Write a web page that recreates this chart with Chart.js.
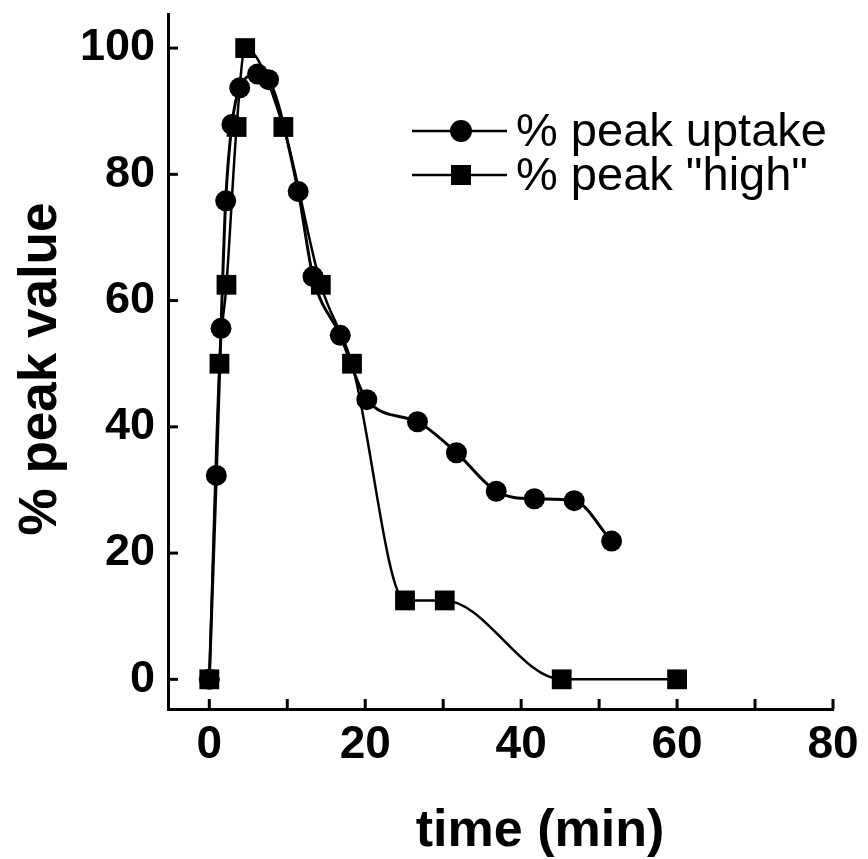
<!DOCTYPE html>
<html>
<head>
<meta charset="utf-8">
<script src="https://cdn.jsdelivr.net/npm/chart.js@4.4.0/dist/chart.umd.min.js"></script>
<style>
  html, body { margin: 0; padding: 0; background: #fff; }
  #wrap { width: 868px; height: 859px; }
</style>
</head>
<body>
<div id="wrap"><canvas id="myChart" width="868" height="859"></canvas></div>
<script>
// values
const uptakeTimes  = [0, 0.9, 1.5, 2.1, 2.9, 3.9, 6.2, 7.6, 11.4, 13.3, 16.8, 20.2, 26.7, 31.7, 36.8, 41.7, 46.8, 51.6];
const uptakeValues = [0, 32.3, 55.6, 75.8, 87.9, 93.7, 95.9, 95.0, 77.3, 63.8, 54.5, 44.3, 40.8, 35.9, 29.8, 28.6, 28.3, 21.9];

const highTimes  = [0, 1.3, 2.2, 3.5, 4.6, 9.5, 14.3, 18.3, 25.1, 30.2, 45.2, 60];
const highValues = [0, 50, 62.5, 87.5, 100, 87.5, 62.5, 50, 12.5, 12.5, 0, 0];

const seriesLabels = ['% peak uptake', '% peak "high"'];

const xTickValues  = [0, 10, 20, 30, 40, 50, 60, 70, 80];
const xLabelValues = [0, 20, 40, 60, 80];
const yTickValues  = [0, 20, 40, 60, 80, 100];

const xTitle = 'time (min)';
const yTitle = '% peak value';

const FONT = "'Liberation Sans', Arial, Helvetica, sans-serif";

Chart.defaults.font.family = FONT;
Chart.defaults.color = '#000';

const toPoints = (xs, ys) => xs.map((x, i) => ({ x: x, y: ys[i] }));

// short tick marks pointing into the plot, like the original
const innerTicks = {
  id: 'innerTicks',
  beforeDatasetsDraw(chart) {
    const { ctx, chartArea, scales } = chart;
    ctx.save();
    ctx.strokeStyle = '#000';
    ctx.lineWidth = 3;
    yTickValues.forEach(v => {
      const py = scales.y.getPixelForValue(v);
      ctx.beginPath();
      ctx.moveTo(chartArea.left, py);
      ctx.lineTo(chartArea.left + 10, py);
      ctx.stroke();
    });
    xTickValues.forEach(v => {
      const px = scales.x.getPixelForValue(v);
      ctx.beginPath();
      ctx.moveTo(px, chartArea.bottom);
      ctx.lineTo(px, chartArea.bottom - 10);
      ctx.stroke();
    });
    ctx.restore();
  }
};

const axisTitles = {
  id: 'axisTitles',
  afterDraw(chart) {
    const ctx = chart.ctx;
    ctx.save();
    ctx.fillStyle = '#000';
    ctx.textAlign = 'center';
    ctx.textBaseline = 'alphabetic';
    ctx.font = 'bold 52px ' + FONT;
    ctx.fillText(xTitle, 540, 846);

    ctx.translate(56, 369);
    ctx.rotate(-Math.PI / 2);
    ctx.font = 'bold 53px ' + FONT;
    ctx.fillText(yTitle, 0, 0);
    ctx.restore();
  }
};

const insideLegend = {
  id: 'insideLegend',
  afterDraw(chart) {
    const ctx = chart.ctx;
    const rows = [131, 175];
    ctx.save();
    chart.data.datasets.forEach((ds, i) => {
      const y = rows[i];
      ctx.strokeStyle = '#000';
      ctx.lineWidth = 2.5;
      ctx.beginPath();
      ctx.moveTo(412, y);
      ctx.lineTo(507, y);
      ctx.stroke();
      ctx.fillStyle = '#000';
      if (ds.pointStyle === 'circle') {
        ctx.beginPath();
        ctx.arc(461, y, 11, 0, Math.PI * 2);
        ctx.fill();
      } else {
        ctx.fillRect(451, y - 10, 20, 20);
      }
      ctx.font = '47px ' + FONT;
      ctx.textAlign = 'left';
      ctx.textBaseline = 'middle';
      ctx.fillText(ds.label, 516, y + 2);
    });
    ctx.restore();
  }
};

new Chart(document.getElementById('myChart'), {
  type: 'line',
  data: {
    datasets: [
      {
        label: seriesLabels[0],
        data: toPoints(uptakeTimes, uptakeValues),
        borderColor: '#000',
        backgroundColor: '#000',
        borderWidth: 3,
        cubicInterpolationMode: 'monotone',
        pointStyle: 'circle',
        pointRadius: 10.5,
        pointBorderWidth: 0,
        clip: false,
        order: 1
      },
      {
        label: seriesLabels[1],
        data: toPoints(highTimes, highValues),
        borderColor: '#000',
        backgroundColor: '#000',
        borderWidth: 2.5,
        cubicInterpolationMode: 'monotone',
        pointStyle: 'rect',
        pointRadius: 14,
        pointBorderWidth: 0,
        clip: false,
        order: 0
      }
    ]
  },
  options: {
    responsive: false,
    animation: false,
    events: [],
    layout: { padding: { top: 13, right: 35, left: 0, bottom: 0 } },
    plugins: {
      legend: { display: false },
      tooltip: { enabled: false }
    },
    scales: {
      x: {
        type: 'linear',
        min: -5.3,
        max: 80,
        afterFit: scale => {
          scale.height = 150;
          scale.paddingLeft = 0;
          scale.paddingRight = 0;
        },
        afterBuildTicks: axis => { axis.ticks = xTickValues.map(v => ({ value: v })); },
        ticks: {
          autoSkip: false,
          maxRotation: 0,
          padding: 9,
          font: { size: 46, weight: 'bold' },
          callback: val => xLabelValues.includes(val) ? String(val) : ''
        },
        grid: { display: false, drawTicks: false },
        border: { display: true, color: '#000', width: 3 }
      },
      y: {
        type: 'linear',
        min: -4.7,
        max: 105.4,
        afterFit: scale => {
          scale.width = 168;
          scale.paddingTop = 0;
          scale.paddingBottom = 0;
        },
        afterBuildTicks: axis => { axis.ticks = yTickValues.map(v => ({ value: v })); },
        ticks: {
          padding: 13,
          font: { size: 45, weight: 'bold' }
        },
        grid: { display: false, drawTicks: false },
        border: { display: true, color: '#000', width: 3 }
      }
    }
  },
  plugins: [innerTicks, axisTitles, insideLegend]
});
</script>
</body>
</html>
